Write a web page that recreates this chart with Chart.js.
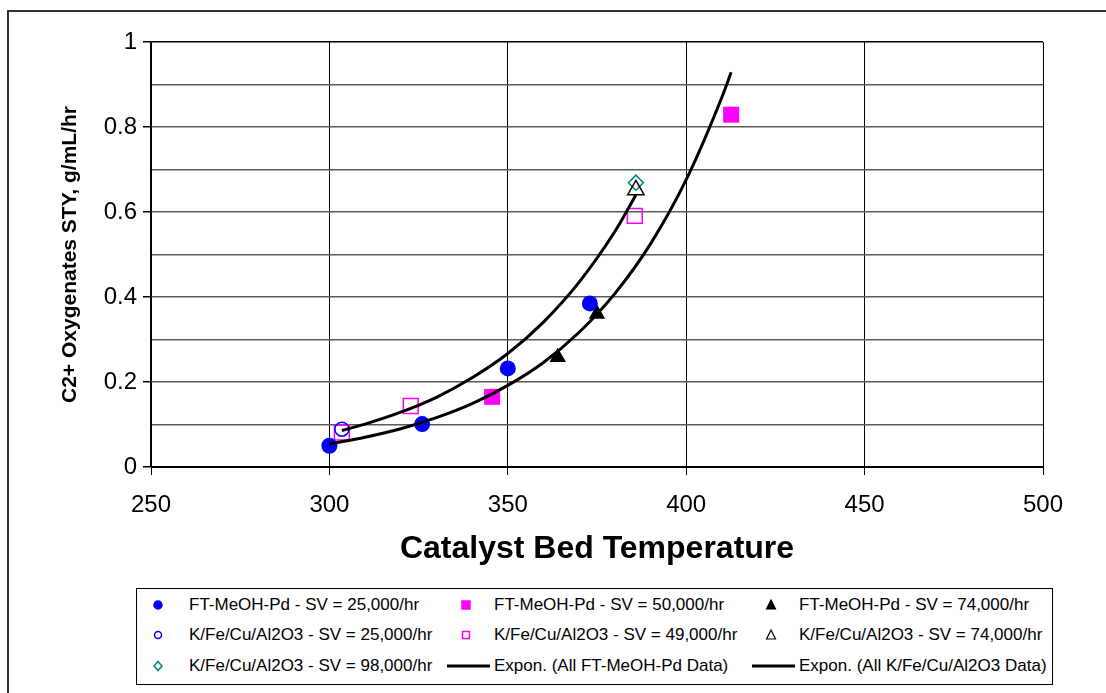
<!DOCTYPE html>
<html>
<head>
<meta charset="utf-8">
<title>C2+ Oxygenates STY vs Catalyst Bed Temperature</title>
<script src="https://cdn.jsdelivr.net/npm/chart.js@4.4.1/dist/chart.umd.min.js"></script>
<style>
  body { margin: 0; background: #fff; font-family: "Liberation Sans", Arial, sans-serif; }
  #wrap { position: relative; width: 1106px; height: 693px; overflow: hidden; background: #fff; }
  #frame { position: absolute; left: 7px; top: 10px; width: 1110px; height: 700px; border: 2px solid #333; }
  #c { position: absolute; left: 0; top: 0; }
  #legend { position: absolute; left: 136px; top: 588px; width: 915px; height: 95px; border: 1px solid #000; background: #fff; }
  .item { position: absolute; height: 22px; line-height: 22px; font-size: 17px; color: #000; white-space: nowrap; }
  .item svg { position: absolute; top: 0; }
</style>
</head>
<body>
<div id="wrap">
  <div id="frame"></div>
  <canvas id="c" width="1106" height="600"></canvas>
  <div id="legend"></div>
</div>
<script>
// FT-MeOH-Pd catalyst
const ftTemp25 = [300, 326, 350, 373];
const ftSty25 = [0.050, 0.101, 0.232, 0.385];
const ftTemp50 = [345.6, 412.6];
const ftSty50 = [0.165, 0.829];
const ftTemp74 = [364, 375];
const ftSty74 = [0.258, 0.360];

// K/Fe/Cu/Al2O3 catalyst
const kTemp25 = [303.5];
const kSty25 = [0.089];
const kTemp49 = [303.5, 322.8, 385.6];
const kSty49 = [0.081, 0.1435, 0.591];
const kTemp74 = [385.9];
const kSty74 = [0.652];
const kTemp98 = [385.9];
const kSty98 = [0.669];

// exponential trendlines
const ftFitTemp = [300, 310, 320, 330, 340, 350, 360, 370, 380, 390, 400, 410, 412.6];
const ftFitSty = [0.054, 0.070, 0.090, 0.116, 0.149, 0.192, 0.246, 0.317, 0.408, 0.525, 0.676, 0.870, 0.929];
const kFitTemp = [303.5, 310, 320, 330, 340, 350, 360, 370, 380, 385.9];
const kFitSty = [0.086, 0.101, 0.129, 0.164, 0.210, 0.267, 0.341, 0.435, 0.554, 0.640];

const xTicks = [250, 300, 350, 400, 450, 500];
const yTicks = [0, 0.2, 0.4, 0.6, 0.8, 1];

function pts(xs, ys) {
    return xs.map((x, i) => ({x: x, y: ys[i]}));
}

function marker(label, xs, ys, style, color, radius, filled) {
    return {
        label: label,
        data: pts(xs, ys),
        showLine: false,
        pointStyle: style,
        pointRadius: radius,
        pointHoverRadius: radius,
        pointBorderColor: color,
        pointBackgroundColor: filled ? color : 'rgba(0,0,0,0)',
        pointBorderWidth: filled ? 0 : 1.5,
        order: 1
    };
}

function trend(label, xs, ys) {
    return {
        label: label,
        data: pts(xs, ys),
        showLine: true,
        borderColor: '#000',
        borderWidth: 3,
        pointRadius: 0,
        cubicInterpolationMode: 'monotone',
        fill: false,
        order: -1
    };
}

const datasets = [
    marker('FT-MeOH-Pd - SV = 25,000/hr', ftTemp25, ftSty25, 'circle', '#0000ff', 8, true),
    marker('FT-MeOH-Pd - SV = 50,000/hr', ftTemp50, ftSty50, 'rect', '#ff00ff', 11.3, true),
    marker('FT-MeOH-Pd - SV = 74,000/hr', ftTemp74, ftSty74, 'triangle', '#000000', 9.5, true),
    marker('K/Fe/Cu/Al2O3 - SV = 25,000/hr', kTemp25, kSty25, 'circle', '#0000ff', 7, false),
    marker('K/Fe/Cu/Al2O3 - SV = 49,000/hr', kTemp49, kSty49, 'rect', '#ff00ff', 10.5, false),
    marker('K/Fe/Cu/Al2O3 - SV = 74,000/hr', kTemp74, kSty74, 'triangle', '#000000', 9.5, false),
    marker('K/Fe/Cu/Al2O3 - SV = 98,000/hr', kTemp98, kSty98, 'rectRot', '#008080', 7.5, false),
    trend('Expon. (All FT-MeOH-Pd Data)', ftFitTemp, ftFitSty),
    trend('Expon. (All K/Fe/Cu/Al2O3 Data)', kFitTemp, kFitSty)
];

const isMajorY = v => yTicks.some(t => Math.abs(t - v) < 1e-6);

new Chart(document.getElementById('c'), {
    type: 'scatter',
    data: {datasets: datasets},
    options: {
        responsive: false,
        animation: false,
        devicePixelRatio: 1,
        layout: {padding: {left: 0, top: 42, right: 63, bottom: 0}},
        plugins: {legend: {display: false}, tooltip: {enabled: false}},
        scales: {
            x: {
                type: 'linear',
                min: 250,
                max: 500,
                afterFit: s => { s.height = 133; },
                afterBuildTicks: s => { s.ticks = xTicks.map(v => ({value: v})); },
                ticks: {
                    padding: 16,
                    color: '#000',
                    font: {family: '"Liberation Sans", Arial', size: 24},
                    maxRotation: 0,
                    autoSkip: false
                },
                grid: {color: '#000', lineWidth: 1, tickLength: 8, tickColor: '#000'},
                border: {color: '#000', width: 1},
                title: {
                    display: true,
                    text: 'Catalyst Bed Temperature',
                    color: '#000',
                    font: {family: '"Liberation Sans", Arial', size: 32, weight: 'bold'},
                    padding: {top: 0, bottom: 32}
                }
            },
            y: {
                type: 'linear',
                min: 0,
                max: 1,
                afterFit: s => { s.width = 151; },
                ticks: {
                    stepSize: 0.1,
                    padding: 6,
                    color: '#000',
                    font: {family: '"Liberation Sans", Arial', size: 24},
                    autoSkip: false,
                    callback: v => isMajorY(v) ? String(Math.round(v * 10) / 10) : ''
                },
                grid: {
                    color: ctx => (ctx.tick && (ctx.tick.value === 0 || ctx.tick.value === 1)) ? '#000' : '#5a5a5a',
                    lineWidth: 1.5,
                    tickLength: 8,
                    tickColor: ctx => (ctx.tick && isMajorY(ctx.tick.value)) ? '#000' : 'rgba(0,0,0,0)'
                },
                border: {color: '#000', width: 1.5},
                title: {
                    display: true,
                    text: 'C2+ Oxygenates STY, g/mL/hr',
                    color: '#000',
                    font: {family: '"Liberation Sans", Arial', size: 21, weight: 'bold'},
                    padding: {top: 58, bottom: 0}
                }
            }
        }
    }
});

// legend laid out like the original 3 x 3 box
const colMarker = [21, 329, 634];
const colText = [52, 357, 662];
const rowMid = [16, 46, 77];

function legendIcon(ds) {
    if (ds.showLine) {
        return '<svg width="46" height="22" style="left:0"><line x1="0" y1="11" x2="43" y2="11" stroke="#000" stroke-width="3"/></svg>';
    }
    const c = ds.pointBorderColor;
    const fill = ds.pointBorderWidth === 0 ? c : 'none';
    let shape = '';
    if (ds.pointStyle === 'circle') shape = '<circle cx="11" cy="11" r="' + (fill === 'none' ? 3.5 : 4) + '" fill="' + fill + '" stroke="' + c + '" stroke-width="1.5"/>';
    if (ds.pointStyle === 'rect') shape = '<rect x="' + (fill === 'none' ? 7.5 : 7) + '" y="' + (fill === 'none' ? 7.5 : 7) + '" width="' + (fill === 'none' ? 7 : 8) + '" height="' + (fill === 'none' ? 7 : 8) + '" fill="' + fill + '" stroke="' + c + '" stroke-width="1.5"/>';
    if (ds.pointStyle === 'triangle') shape = '<polygon points="11,6 15.5,15 6.5,15" fill="' + fill + '" stroke="' + c + '" stroke-width="1.2"/>';
    if (ds.pointStyle === 'rectRot') shape = '<polygon points="11,6.5 15,11 11,15.5 7,11" fill="none" stroke="' + c + '" stroke-width="1.5"/>';
    return '<svg width="22" height="22" style="left:-11px">' + shape + '</svg>';
}

const legend = document.getElementById('legend');
datasets.forEach((ds, i) => {
    const col = i % 3, row = Math.floor(i / 3);
    const icon = document.createElement('div');
    icon.className = 'item';
    icon.style.left = (ds.showLine ? colText[col] - 47 : colMarker[col]) + 'px';
    icon.style.top = (rowMid[row] - 11) + 'px';
    icon.innerHTML = legendIcon(ds);
    legend.appendChild(icon);

    const txt = document.createElement('div');
    txt.className = 'item';
    txt.style.left = colText[col] + 'px';
    txt.style.top = (rowMid[row] - 11) + 'px';
    txt.textContent = ds.label;
    legend.appendChild(txt);
});
</script>
</body>
</html>
